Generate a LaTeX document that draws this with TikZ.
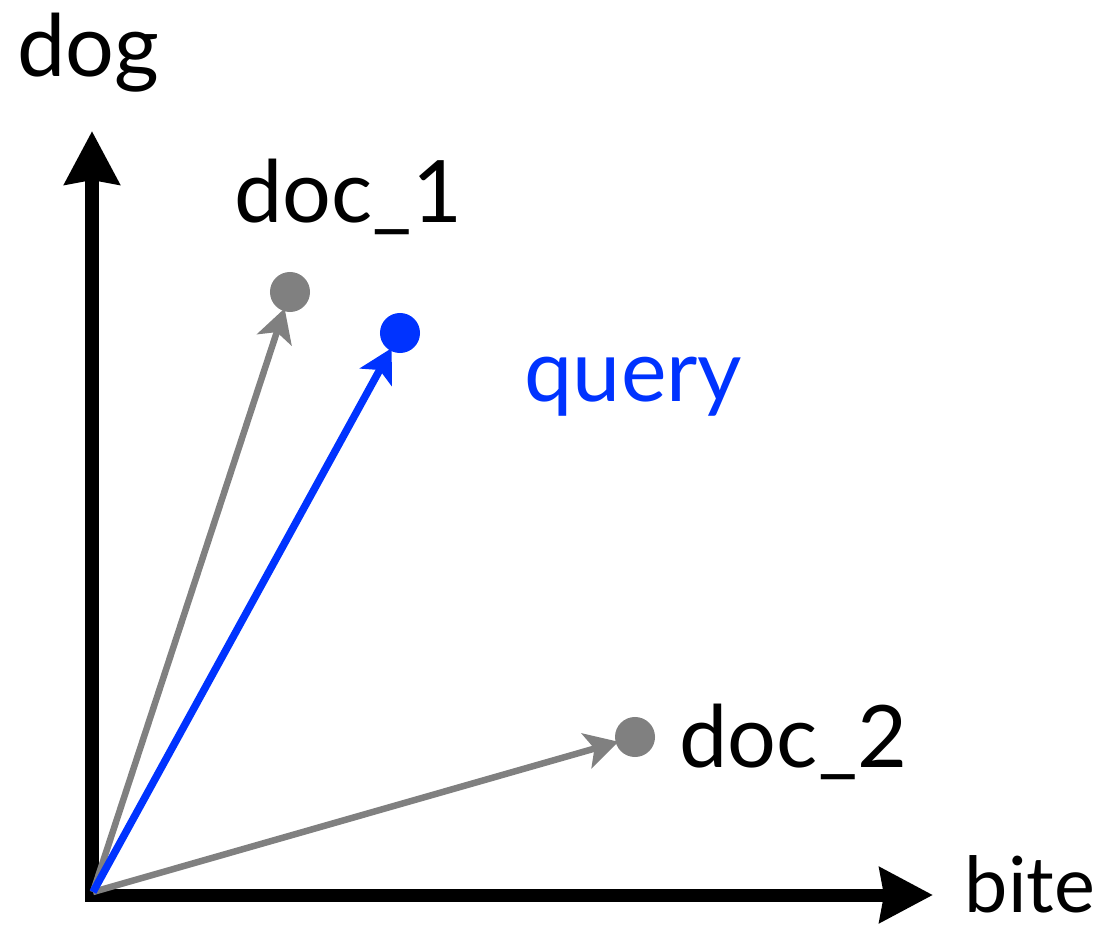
\documentclass[tikz,border=0pt]{standalone}
\usepackage{fontspec}
\setmainfont{Lato}
\definecolor{qblue}{RGB}{0,51,255}
\definecolor{docgray}{RGB}{128,128,128}
\usetikzlibrary{arrows.meta, positioning}

\begin{document}
\begin{tikzpicture}[
        x=0.01cm, y=-0.01cm,
        axis/.style={line width=0.13cm, line join=miter,
                     {Stealth[length=0.53cm, width=0.54cm, inset=0.04cm]}-{Stealth[length=0.53cm, width=0.54cm, inset=0.04cm]}},
        vec/.style={line width=0.065cm, -{Stealth[length=0.33cm, width=0.36cm, inset=0.08cm]}, shorten >=-1pt},
        dot/.style={circle, inner sep=0pt, minimum size=0.4cm},
        lbl/.style={inner sep=0pt, anchor=base west, font=\fontsize{24.5}{29}\selectfont}
      ]
        \useasboundingbox (0,0) rectangle (1113,925);
        \coordinate (ytip) at (92,131);
        \coordinate (corner) at (92,895);
        \coordinate (xtip) at (933,895);
        \coordinate (O) at (93,892);
        \draw[axis] (ytip)--(corner)--(xtip);
        \node[dot, fill=docgray] (doc1) at (290,292) {};
        \node[dot, fill=qblue] (query) at (400,333) {};
        \node[dot, fill=docgray] (doc2) at (635,737) {};
        \draw[vec, docgray] (O)--(doc1);
        \draw[vec, docgray] (O)--(doc2);
        \draw[vec, qblue, line width=0.075cm] (O)--(query);
        \node[lbl] (doglbl) at (17,77) {dog};
        \node[lbl] (doc1lbl) at (234,223) {doc\_1};
        \node[lbl, text=qblue] (querylbl) at (524,402) {query};
        \node[lbl] (doc2lbl) at (679,767) {doc\_2};
        \node[lbl, font=\fontsize{22}{26}\selectfont] (bitelbl) at (964,912) {bite};
      \end{tikzpicture}
\end{document}
